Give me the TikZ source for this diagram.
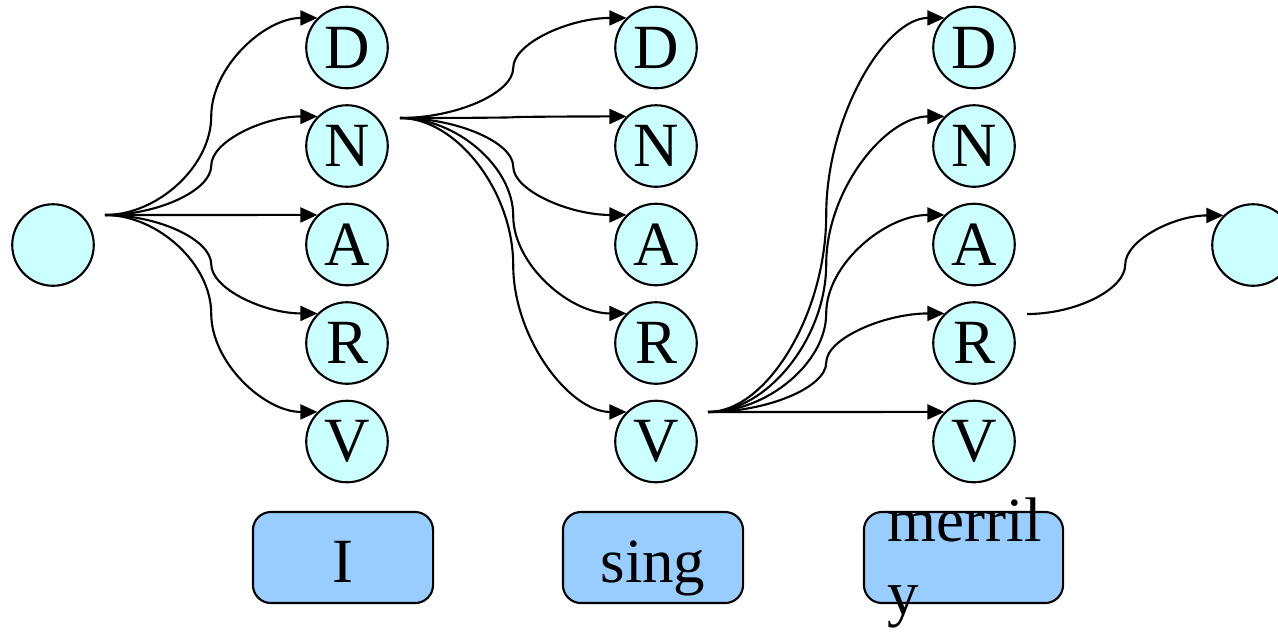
\documentclass[tikz,border=0pt]{standalone}
\usepackage{fontspec}
\setmainfont{Liberation Serif}
\usetikzlibrary{arrows.meta,calc}
\definecolor{circfill}{RGB}{204,255,255}
\definecolor{boxfill}{RGB}{153,204,255}
\begin{document}
\begin{tikzpicture}[x=0.01cm,y=-0.01cm,
  every node/.style={font=\fontsize{17.9pt}{20.5pt}\selectfont},
  state/.style={circle,draw,line width=0.6pt,fill=circfill,minimum size=0.815cm,inner sep=0pt},
  word/.style={draw,line width=0.6pt,fill=boxfill,rounded corners=0.18cm,minimum width=1.8cm,minimum height=0.91cm,inner sep=0pt,text height=0.6cm,text depth=0.11cm},
  link/.style={line width=0.6pt,-{Triangle[length=0.17cm,width=0.15cm]}},
  fan/.style={to path={let \p1=(\tikztostart),\p2=(\tikztotarget) in
    .. controls ({(3*\x1+\x2)/4},\y1) and ({(\x1+\x2)/2},{(3*\y1+\y2)/4}) .. ({(\x1+\x2)/2},{(\y1+\y2)/2})
    .. controls ({(\x1+\x2)/2},{(\y1+3*\y2)/4}) and ({(\x1+3*\x2)/4},\y2) .. (\tikztotarget)}}]
\useasboundingbox (0,0) rectangle (1278,635);

% start and end states
\node[state] (S) at (53,245) {};
\node[state] (E) at (1253,245) {};

% columns
\foreach \c/\x in {1/347,2/656,3/974}{
  \node[state] (D\c) at (\x,47.5) {D};
  \node[state] (N\c) at (\x,146) {N};
  \node[state] (A\c) at (\x,244.5) {A};
  \node[state] (R\c) at (\x,343) {R};
  \node[state] (V\c) at (\x,441.5) {V};
}

% word boxes
\node[word] (W1) at (343,557.5) {I};
\node[word] (W2) at (653,557.5) {sing};
\node[word,minimum width=1.99cm] (W3) at (963.5,557.5) {};
\node[anchor=base west,align=left,inner sep=0pt] (W3t) at (887,614) {merril\\y};

% fan origins
\coordinate (s1) at (105,215);
\coordinate (s2) at (400,118);
\coordinate (s3) at (708,412);
\coordinate (s4) at (1027,314);

\foreach \t in {D,N,A,R,V}{
  \draw[link] (s1) to[fan] (\t1.135);
  \draw[link] (s2) to[fan] (\t2.135);
  \draw[link] (s3) to[fan] (\t3.135);
}
\draw[link] (s4) to[fan] (E.135);
\end{tikzpicture}
\end{document}
